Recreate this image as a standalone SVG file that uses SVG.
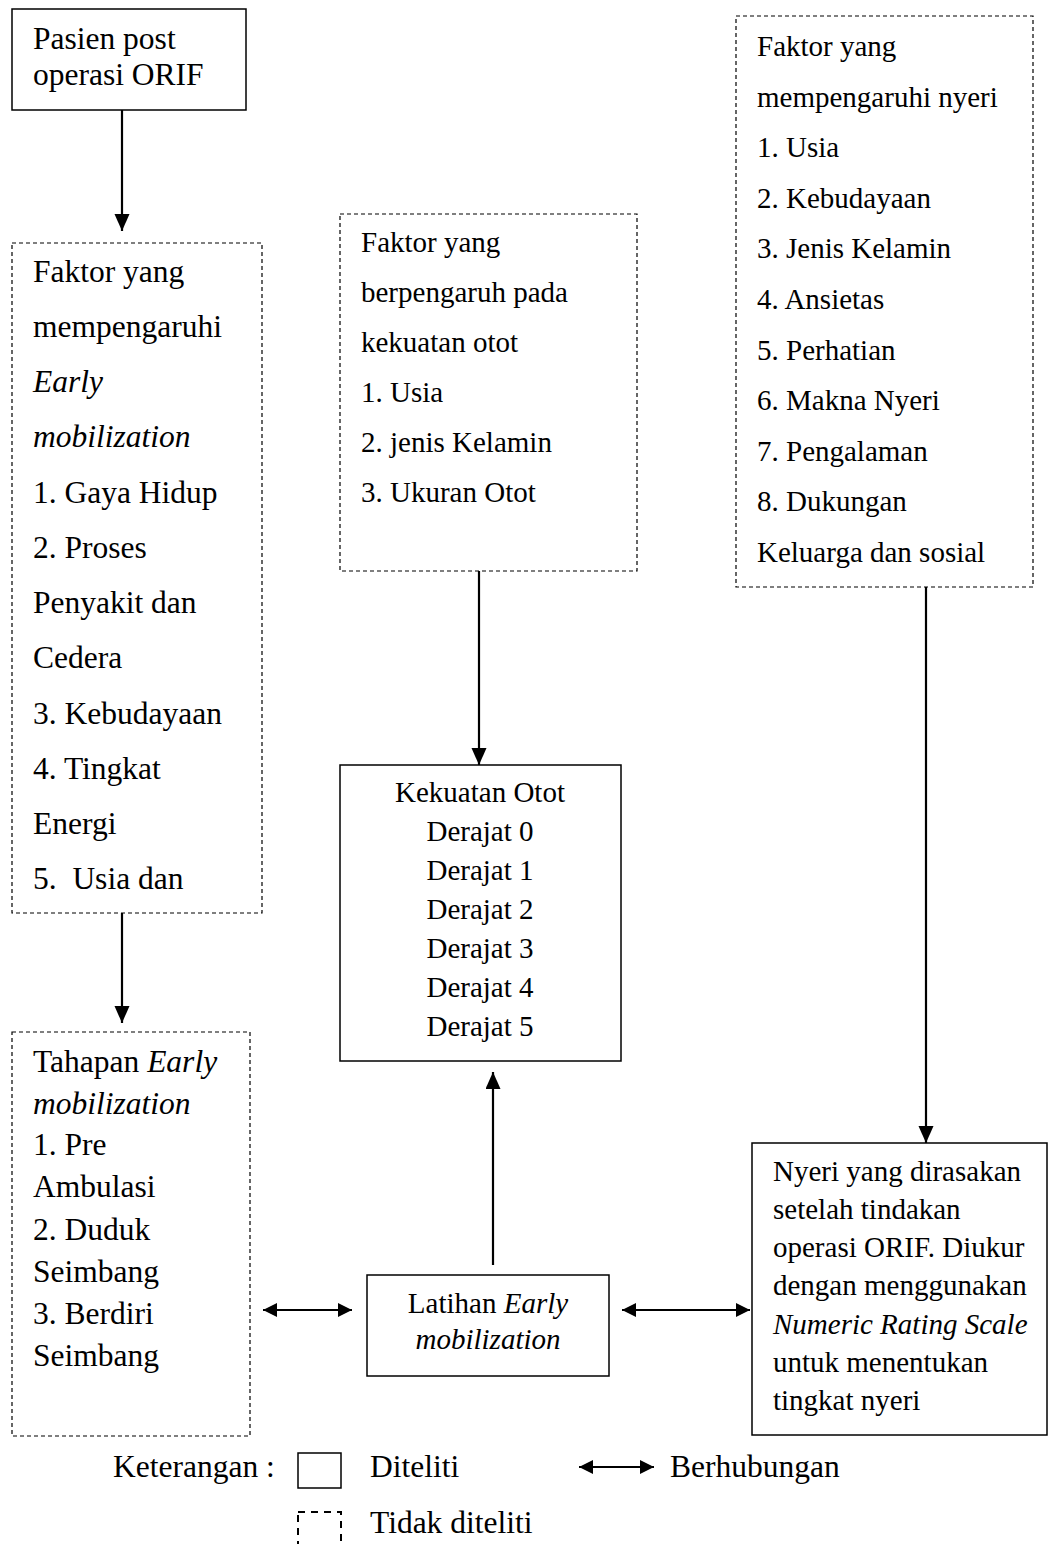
<svg xmlns="http://www.w3.org/2000/svg" width="1048" height="1544" viewBox="0 0 1048 1544">
<style>
text{font-family:"Liberation Serif","Times New Roman",serif;font-size:29px;fill:#000;white-space:pre}
.big{font-size:31.5px}
.it{font-style:italic}
.mid{text-anchor:middle}
.solid{fill:#fff;stroke:#000;stroke-width:1.5}
.dash{fill:#fff;stroke:#000;stroke-width:1.2;stroke-dasharray:4 3}
.conn{stroke:#000;stroke-width:2.2;fill:none}
</style>
<defs>
<marker id="ah" markerUnits="userSpaceOnUse" markerWidth="18" markerHeight="16" refX="17" refY="7.5" orient="auto">
<path d="M0,0 L17,7.5 L0,15 z" fill="#000"/>
</marker>
<marker id="ahs" markerUnits="userSpaceOnUse" markerWidth="15" markerHeight="15" refX="14" refY="7" orient="auto-start-reverse">
<path d="M0,0 L14,7 L0,14 z" fill="#000"/>
</marker>
</defs>
<rect width="1048" height="1544" fill="#fff"/>

<g id="connectors">
<line class="conn" x1="122" y1="110" x2="122" y2="231" marker-end="url(#ah)"/>
<line class="conn" x1="122" y1="913" x2="122" y2="1023" marker-end="url(#ah)"/>
<line class="conn" x1="479" y1="571" x2="479" y2="765" marker-end="url(#ah)"/>
<line class="conn" x1="493" y1="1265" x2="493" y2="1072" marker-end="url(#ah)"/>
<line class="conn" x1="926" y1="587" x2="926" y2="1143" marker-end="url(#ah)"/>
<line class="conn" x1="263" y1="1310" x2="352" y2="1310" marker-start="url(#ahs)" marker-end="url(#ahs)"/>
<line class="conn" x1="622" y1="1310" x2="750" y2="1310" marker-start="url(#ahs)" marker-end="url(#ahs)"/>
</g>

<g id="pasien">
<rect class="solid" x="12" y="9" width="234" height="101"/>
<text class="big" x="33" y="49">Pasien post</text>
<text class="big" x="33" y="85">operasi ORIF</text>
</g>

<g id="faktor-early">
<rect class="dash" x="12" y="243" width="250" height="670"/>
<text class="big" x="33" y="282">Faktor yang</text>
<text class="big" x="33" y="337">mempengaruhi</text>
<text class="big it" x="33" y="392">Early</text>
<text class="big it" x="33" y="447">mobilization</text>
<text class="big" x="33" y="503">1. Gaya Hidup</text>
<text class="big" x="33" y="558">2. Proses</text>
<text class="big" x="33" y="613">Penyakit dan</text>
<text class="big" x="33" y="668">Cedera</text>
<text class="big" x="33" y="724">3. Kebudayaan</text>
<text class="big" x="33" y="779">4. Tingkat</text>
<text class="big" x="33" y="834">Energi</text>
<text class="big" x="33" y="889">5.  Usia dan</text>
</g>

<g id="tahapan">
<rect class="dash" x="12" y="1032" width="238" height="404"/>
<text class="big" x="33" y="1072">Tahapan <tspan class="it">Early</tspan></text>
<text class="big it" x="33" y="1114">mobilization</text>
<text class="big" x="33" y="1155">1. Pre</text>
<text class="big" x="33" y="1197">Ambulasi</text>
<text class="big" x="33" y="1240">2. Duduk</text>
<text class="big" x="33" y="1282">Seimbang</text>
<text class="big" x="33" y="1324">3. Berdiri</text>
<text class="big" x="33" y="1366">Seimbang</text>
</g>

<g id="faktor-otot">
<rect class="dash" x="340" y="214" width="297" height="357"/>
<text x="361" y="252">Faktor yang</text>
<text x="361" y="302">berpengaruh pada</text>
<text x="361" y="352">kekuatan otot</text>
<text x="361" y="402">1. Usia</text>
<text x="361" y="452">2. jenis Kelamin</text>
<text x="361" y="502">3. Ukuran Otot</text>
</g>

<g id="kekuatan">
<rect class="solid" x="340" y="765" width="281" height="296"/>
<text class="mid" x="480" y="802">Kekuatan Otot</text>
<text class="mid" x="480" y="841">Derajat 0</text>
<text class="mid" x="480" y="880">Derajat 1</text>
<text class="mid" x="480" y="919">Derajat 2</text>
<text class="mid" x="480" y="958">Derajat 3</text>
<text class="mid" x="480" y="997">Derajat 4</text>
<text class="mid" x="480" y="1036">Derajat 5</text>
</g>

<g id="latihan">
<rect class="solid" x="367" y="1275" width="242" height="101"/>
<text class="mid" x="488" y="1313">Latihan <tspan class="it">Early</tspan></text>
<text class="mid it" x="488" y="1349">mobilization</text>
</g>

<g id="faktor-nyeri">
<rect class="dash" x="736" y="16" width="297" height="571"/>
<text x="757" y="56">Faktor yang</text>
<text x="757" y="107">mempengaruhi nyeri</text>
<text x="757" y="157">1. Usia</text>
<text x="757" y="208">2. Kebudayaan</text>
<text x="757" y="258">3. Jenis Kelamin</text>
<text x="757" y="309">4. Ansietas</text>
<text x="757" y="360">5. Perhatian</text>
<text x="757" y="410">6. Makna Nyeri</text>
<text x="757" y="461">7. Pengalaman</text>
<text x="757" y="511">8. Dukungan</text>
<text x="757" y="562">Keluarga dan sosial</text>
</g>

<g id="nyeri">
<rect class="solid" x="752" y="1143" width="295" height="292"/>
<text x="773" y="1181">Nyeri yang dirasakan</text>
<text x="773" y="1219">setelah tindakan</text>
<text x="773" y="1257">operasi ORIF. Diukur</text>
<text x="773" y="1295">dengan menggunakan</text>
<text class="it" x="773" y="1334">Numeric Rating Scale</text>
<text x="773" y="1372">untuk menentukan</text>
<text x="773" y="1410">tingkat nyeri</text>
</g>

<g id="legend">
<text class="big" x="113" y="1477">Keterangan :</text>
<rect class="solid" x="298" y="1453" width="43" height="35" stroke-width="2"/>
<text class="big" x="370" y="1477">Diteliti</text>
<line class="conn" x1="579" y1="1467" x2="654" y2="1467" marker-start="url(#ahs)" marker-end="url(#ahs)"/>
<text class="big" x="670" y="1477">Berhubungan</text>
<rect x="298" y="1512" width="43" height="40" fill="none" stroke="#000" stroke-width="2" stroke-dasharray="7 6"/>
<text class="big" x="370" y="1533">Tidak diteliti</text>
</g>
</svg>
